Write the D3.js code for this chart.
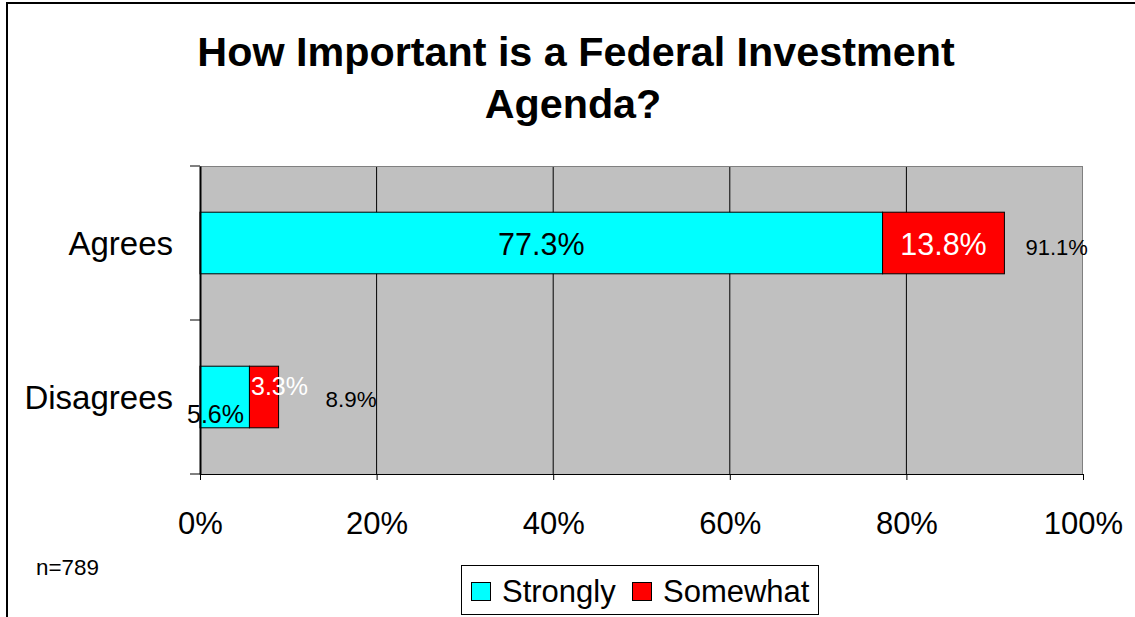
<!DOCTYPE html>
<html><head><meta charset="utf-8">
<script src="https://cdn.jsdelivr.net/npm/d3@7"></script>
<style>body{margin:0;background:#fff}svg{display:block}text{font-family:Arial,"Liberation Sans",sans-serif}</style>
</head><body>
<svg id="c" width="1135" height="617"></svg>
<script>
const categories = ["Agrees", "Disagrees"];
const strongly = [77.3, 5.6];
const somewhat = [13.8, 3.3];
const totals = [91.1, 8.9];
const seriesNames = ["Strongly", "Somewhat"];
const seriesColors = ["#00FFFF", "#FF0000"];
const tickValues = [0, 20, 40, 60, 80, 100];

const FF = "Arial, 'Liberation Sans', sans-serif";
const svg = d3.select("#c");
// outer frame
svg.append("path").attr("d","M7,617V3H1135").attr("fill","none").attr("stroke","#000").attr("stroke-width",2);

const L=200, R=1083, T=166, B=474;
const x = d3.scaleLinear().domain([0,100]).range([L,R]);
const y = d3.scaleBand().domain(categories).range([T,B]).paddingInner(0.6).paddingOuter(0.3);
const band = d3.scaleBand().domain(categories).range([T,B]);

svg.append("rect").attr("x",L).attr("y",T).attr("width",R-L).attr("height",B-T).attr("fill","#C0C0C0");
// gridlines
svg.selectAll("line.g").data(tickValues.slice(1,-1)).enter().append("line")
  .attr("x1",d=>x(d)).attr("x2",d=>x(d)).attr("y1",T).attr("y2",B).attr("stroke","#000").attr("stroke-width",1);
svg.append("line").attr("x1",L).attr("x2",R).attr("y1",T+0.5).attr("y2",T+0.5).attr("stroke","#808080");
svg.append("line").attr("x1",R-0.5).attr("x2",R-0.5).attr("y1",T).attr("y2",B).attr("stroke","#808080");

// bars
categories.forEach((c,i)=>{
  const y0=y(c), h=y.bandwidth();
  svg.append("rect").attr("x",x(0)).attr("y",y0).attr("width",x(strongly[i])-x(0)).attr("height",h)
    .attr("fill",seriesColors[0]).attr("stroke","#000").attr("stroke-width",1);
  svg.append("rect").attr("x",x(strongly[i])).attr("y",y0).attr("width",x(strongly[i]+somewhat[i])-x(strongly[i])).attr("height",h)
    .attr("fill",seriesColors[1]).attr("stroke","#000").attr("stroke-width",1);
});

// axes
const xAxis = d3.axisBottom(x).tickValues(tickValues).tickFormat(d=>d+"%").tickSize(6);
const gx = svg.append("g").attr("transform",`translate(0,${B})`).call(xAxis);
gx.select(".domain").attr("stroke","#000");
gx.selectAll("text").attr("y",60).attr("dy",0).attr("font-size",31).attr("fill","#000").style("font-family",FF);
gx.selectAll(".tick line").attr("stroke","#000");

const yAxis = d3.axisLeft(band).tickSize(0).tickPadding(27);
const gy = svg.append("g").attr("transform",`translate(${L},0)`).call(yAxis);
gy.select(".domain").attr("stroke","#000").attr("stroke-width",2);
gy.selectAll("text").attr("font-size",33).attr("fill","#000").attr("dy",12).style("font-family",FF);
// category separator ticks
[T,band("Disagrees"),B].forEach(v=>{
  svg.append("line").attr("x1",L-10).attr("x2",L).attr("y1",v).attr("y2",v).attr("stroke","#000");
});

// labels
const yc0 = y("Agrees")+y.bandwidth()/2;
svg.append("text").attr("x",(x(0)+x(strongly[0]))/2).attr("y",yc0+12).attr("text-anchor","middle").attr("font-size",30.5).text(strongly[0].toFixed(1)+"%");
svg.append("text").attr("x",(x(strongly[0])+x(totals[0]))/2).attr("y",yc0+12).attr("text-anchor","middle").attr("font-size",30.5).attr("fill","#fff").text(somewhat[0].toFixed(1)+"%");
svg.append("text").attr("x",x(totals[0])+21).attr("y",yc0+12).attr("font-size",22).text(totals[0].toFixed(1)+"%");

const y1 = y("Disagrees");
svg.append("text").attr("x",187).attr("y",y1+57).attr("font-size",25).text(strongly[1].toFixed(1)+"%");
svg.append("text").attr("x",251).attr("y",y1+29).attr("font-size",25).attr("fill","#fff").text(somewhat[1].toFixed(1)+"%");
svg.append("text").attr("x",x(totals[1])+47).attr("y",y1+41).attr("font-size",22.4).text(totals[1].toFixed(1)+"%");

// title
svg.append("text").attr("x",576).attr("y",66).attr("text-anchor","middle").attr("font-size",41.3).attr("font-weight","bold").text("How Important is a Federal Investment");
svg.append("text").attr("x",573).attr("y",118).attr("text-anchor","middle").attr("font-size",41.3).attr("font-weight","bold").text("Agenda?");

svg.append("text").attr("x",36).attr("y",575).attr("font-size",22.4).text("n=789");

// legend
const lg = svg.append("g");
lg.append("rect").attr("x",461.5).attr("y",565.5).attr("width",357).attr("height",49).attr("fill","#fff").attr("stroke","#000");
const lx=[471,632];
seriesNames.forEach((n,i)=>{
  lg.append("rect").attr("x",lx[i]+0.5).attr("y",582.5).attr("width",19).attr("height",18).attr("fill",seriesColors[i]).attr("stroke","#000");
  lg.append("text").attr("x",lx[i]+31).attr("y",602).attr("font-size",31).text(n);
});
</script>
</body></html>
